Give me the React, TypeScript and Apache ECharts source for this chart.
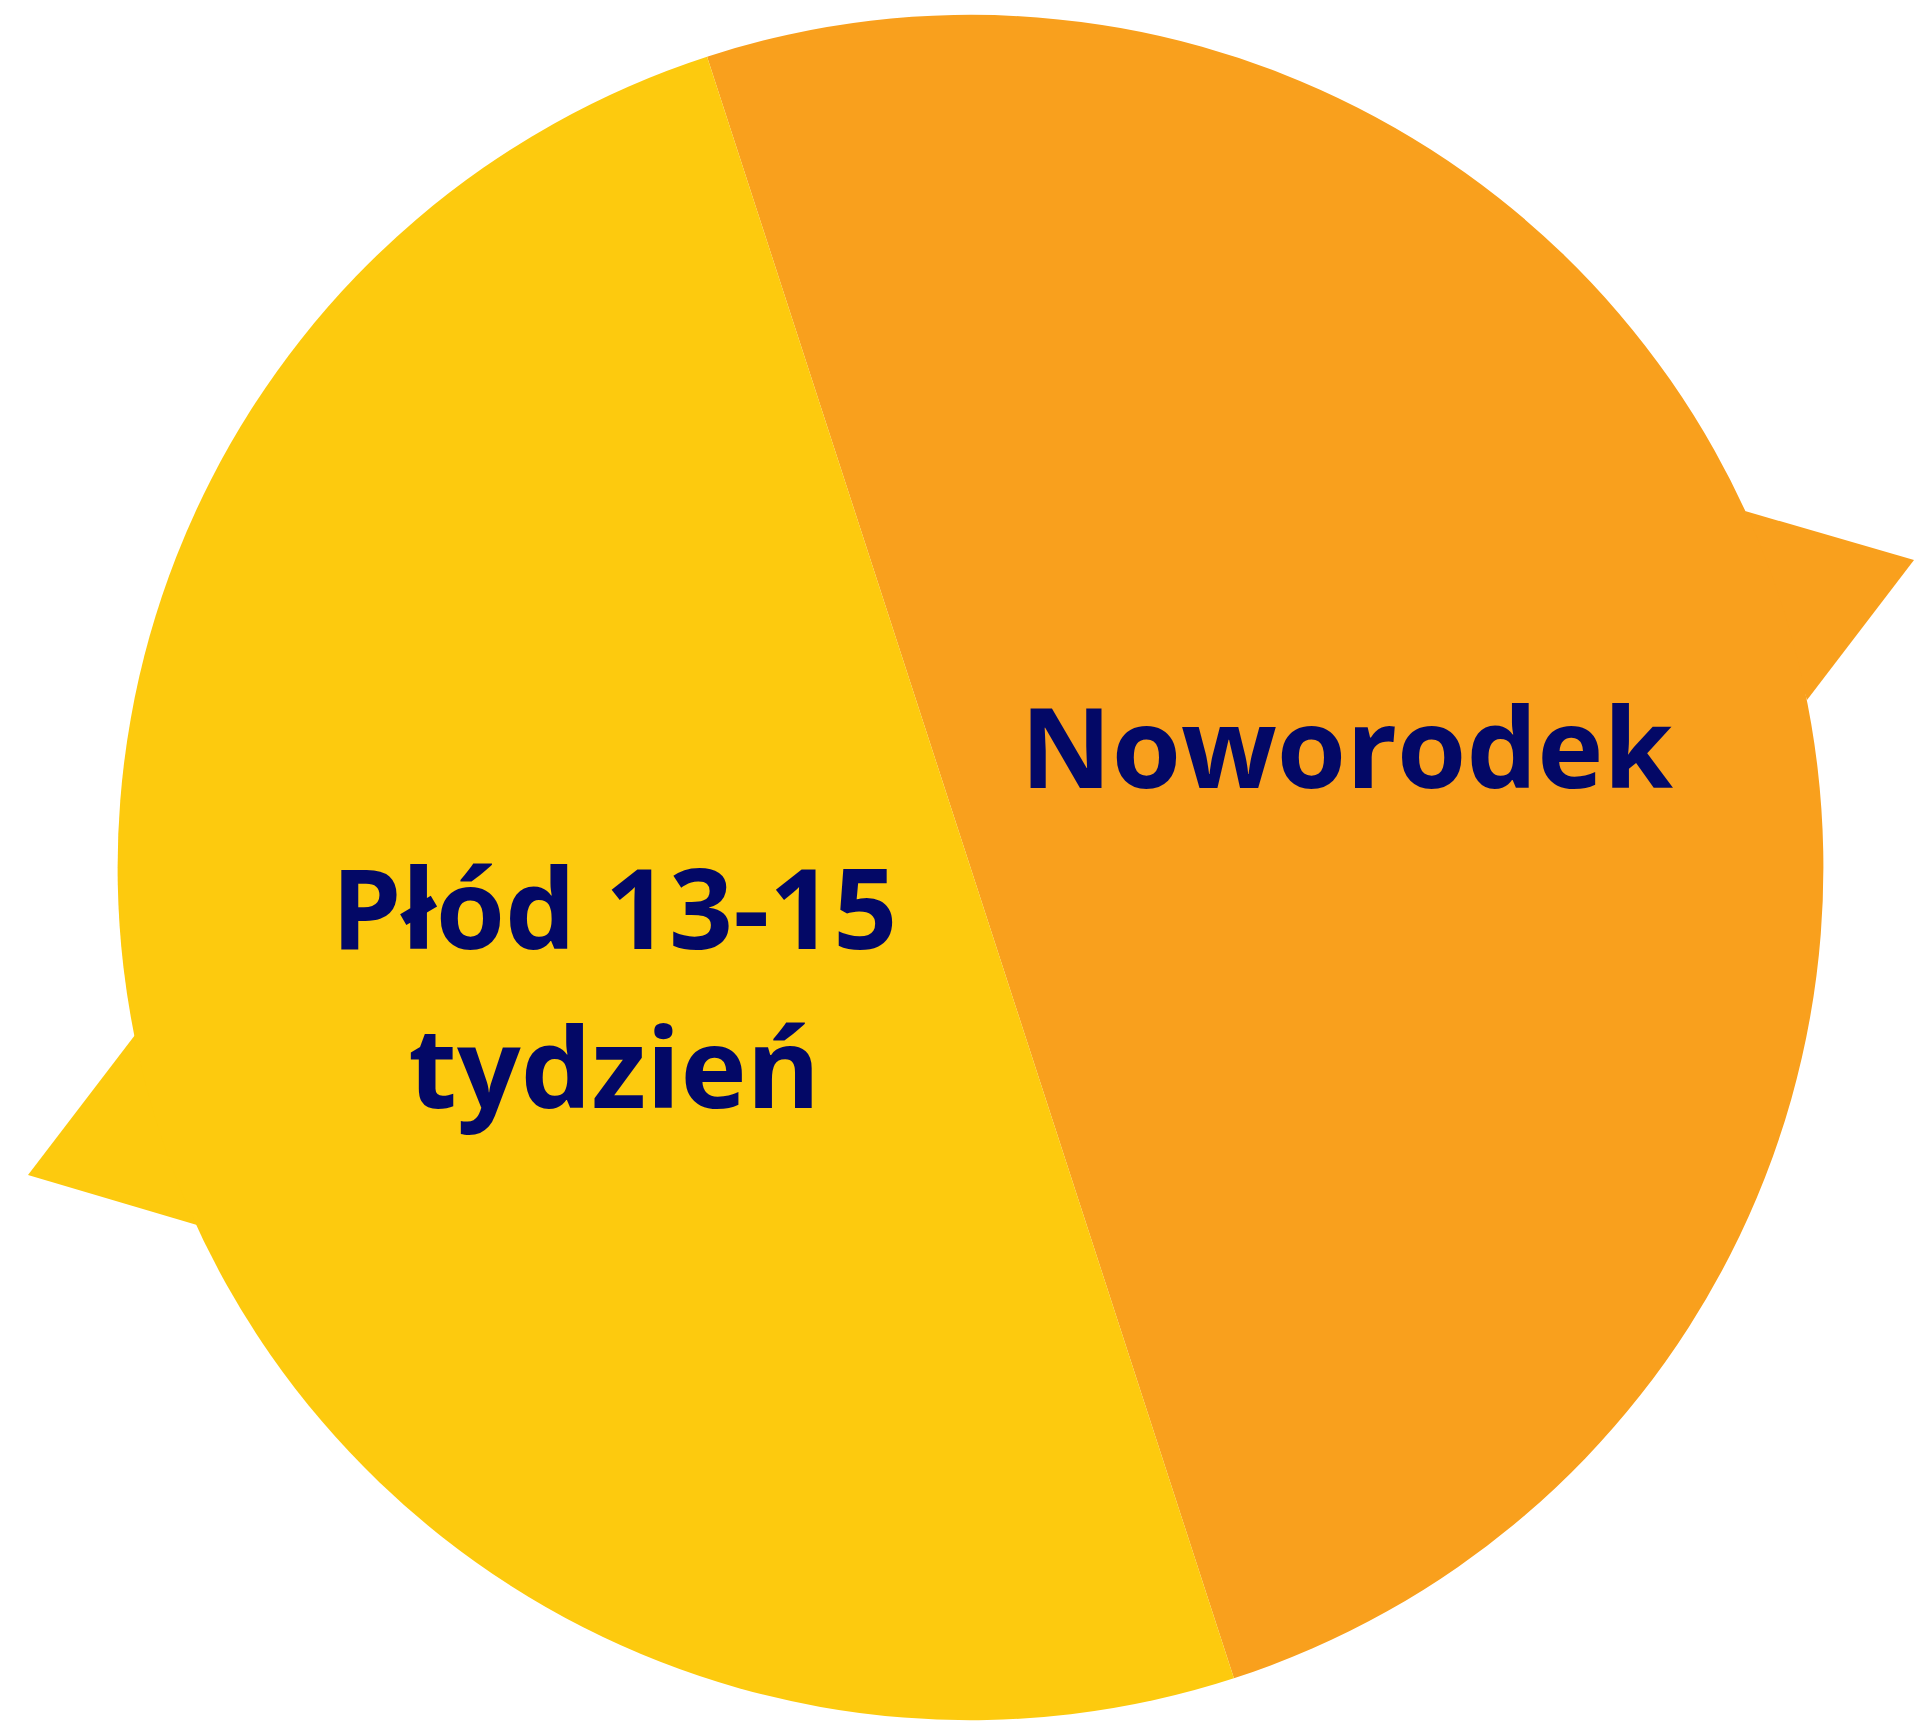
import React, { useEffect, useRef } from "react";
import * as echarts from "echarts";

const categories = ["Noworodek", "Płód 13-15\ntydzień"];
const values = [50, 50];
const colors = ["#F9A01D", "#FDCA0E"];

export default function App() {
  const ref = useRef<HTMLDivElement>(null);
  useEffect(() => {
    if (!ref.current) return;
    const chart = echarts.init(ref.current, null, { renderer: "svg" });
    const labelShift = [
      { dx: -32, dy: 10 },
      { dx: 52, dy: -15 },
    ];
    chart.setOption({
      animation: false,
      backgroundColor: "#ffffff",
      graphic: [
        {
          type: "polygon",
          z: 0,
          shape: { points: [[1745, 511], [1914, 560], [1807, 700]] },
          style: { fill: colors[0] },
        },
        {
          type: "polygon",
          z: 0,
          shape: { points: [[135, 1035], [28, 1175], [197, 1225]] },
          style: { fill: colors[1] },
        },
      ],
      series: [
        {
          type: "pie",
          z: 2,
          center: [970.5, 867.5],
          radius: 852.5,
          startAngle: 108,
          clockwise: true,
          silent: true,
          label: {
            show: true,
            position: "inside",
            fontFamily: "Open Sans",
            fontWeight: "bold",
            fontSize: 112,
            lineHeight: 159,
            color: "#030866",
            align: "center",
          },
          labelLine: { show: false },
          labelLayout: (params: any) => labelShift[params.dataIndex],
          itemStyle: { borderWidth: 0 },
          data: categories.map((name, i) => ({
            name,
            value: values[i],
            itemStyle: { color: colors[i] },
          })),
        },
      ],
    });
    return () => chart.dispose();
  }, []);
  return (
    <div
      ref={ref}
      style={{ position: "fixed", left: 0, top: 0, width: 1921, height: 1729 }}
    />
  );
}
